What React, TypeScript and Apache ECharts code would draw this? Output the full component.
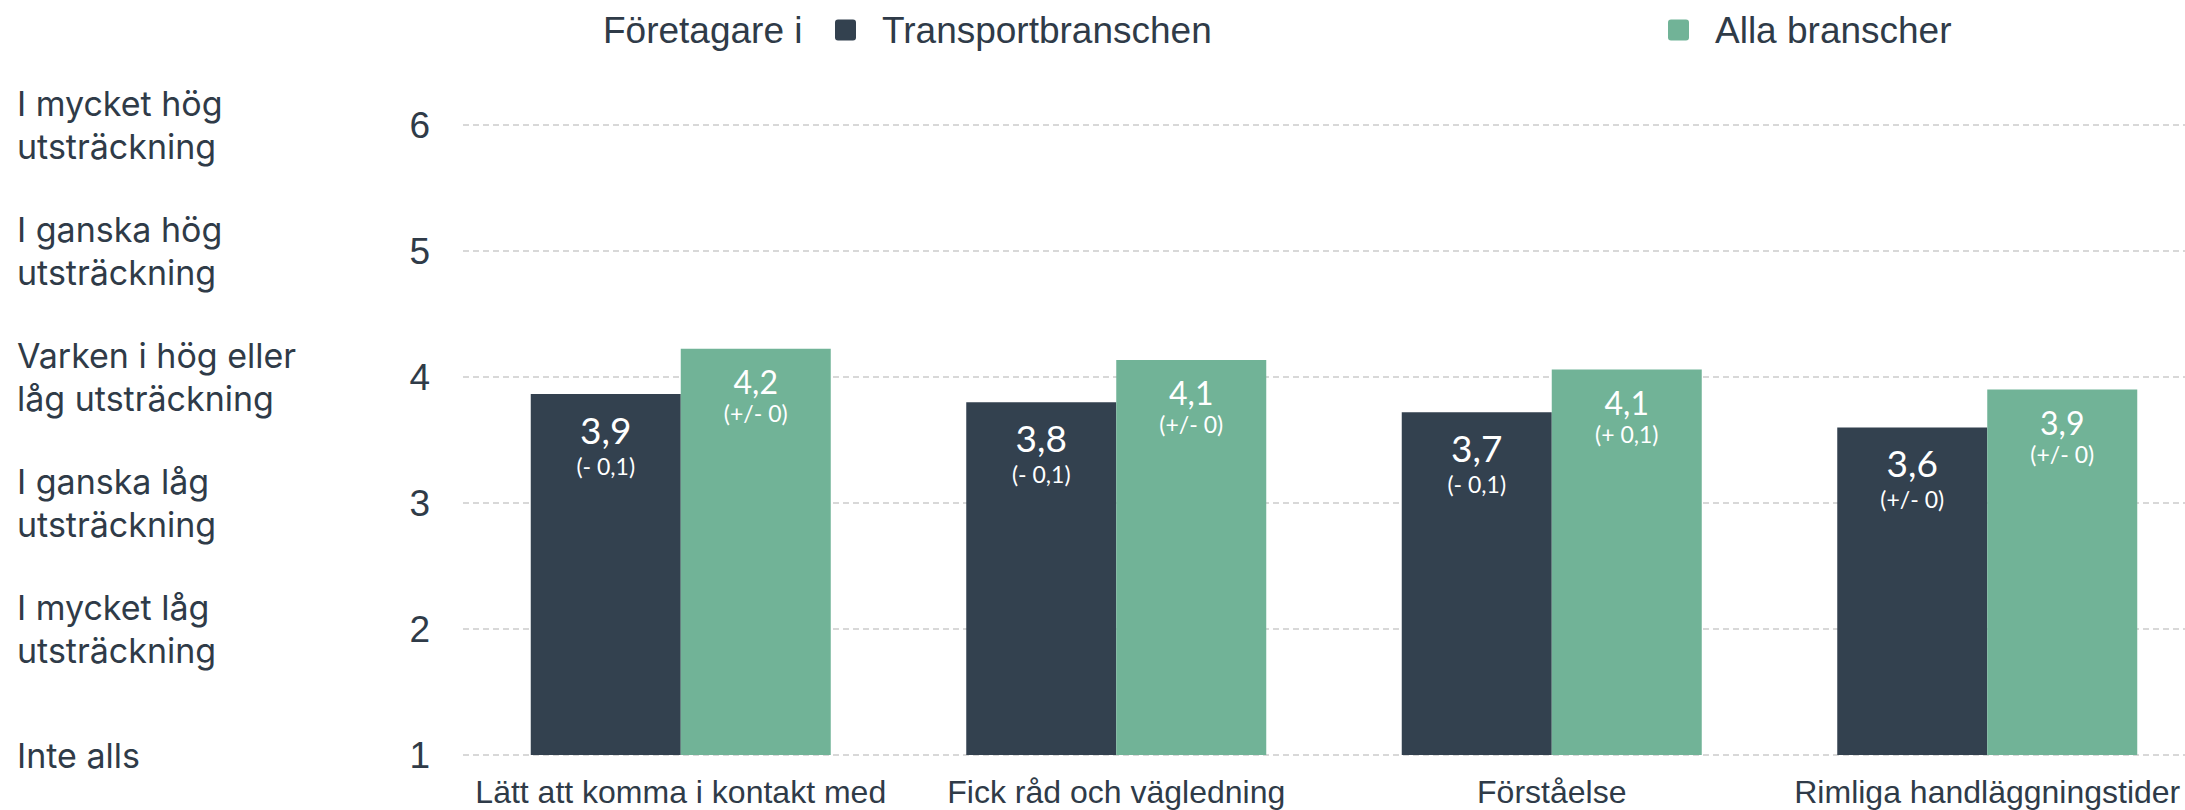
import React, { useEffect, useRef } from "react";
import * as echarts from "echarts";

const categories = [
  "Lätt att komma i kontakt med",
  "Fick råd och vägledning",
  "Förståelse",
  "Rimliga handläggningstider",
];
const seriesNames = ["Transportbranschen", "Alla branscher"];
const transportValues = [3.865, 3.8, 3.72, 3.6];
const allaValues = [4.225, 4.135, 4.06, 3.9];
const transportLabels = ["3,9", "3,8", "3,7", "3,6"];
const transportDeltas = ["(- 0,1)", "(- 0,1)", "(- 0,1)", "(+/- 0)"];
const allaLabels = ["4,2", "4,1", "4,1", "3,9"];
const allaDeltas = ["(+/- 0)", "(+/- 0)", "(+ 0,1)", "(+/- 0)"];
const scaleLabels: Record<number, string> = {
  1: "Inte alls",
  2: "I mycket låg\nutsträckning",
  3: "I ganska låg\nutsträckning",
  4: "Varken i hög eller\nlåg utsträckning",
  5: "I ganska hög\nutsträckning",
  6: "I mycket hög\nutsträckning",
};
const legendPrefix = "Företagare i";

const DARK = "#33414f";
const GREEN = "#71b397";
const TEXT = "#2f3b48";
const ICON =
  "path://M3,0 H18 A3,3 0 0 1 21,3 V18 A3,3 0 0 1 18,21 H3 A3,3 0 0 1 0,18 V3 A3,3 0 0 1 3,0 Z";

export default function App() {
  const ref = useRef<HTMLDivElement>(null);
  useEffect(() => {
    document.body.style.margin = "0";
    document.body.style.overflow = "hidden";
    const chart = echarts.init(ref.current!, null, { renderer: "svg" });
    const gridLeft = 463;
    const legendText = {
      fontSize: 37,
      lineHeight: 40,
      fontFamily: "Liberation Sans",
      color: TEXT,
      padding: [0, 0, 0, 21],
    };
    chart.setOption({
      animation: false,
      backgroundColor: "#ffffff",
      graphic: [
        {
          type: "text",
          left: 603,
          top: 12,
          style: {
            text: legendPrefix,
            fontSize: 37,
            fontFamily: "Liberation Sans",
            fill: TEXT,
          },
        },
      ],
      legend: [
        {
          data: [seriesNames[0]],
          left: 835,
          top: 10,
          padding: 0,
          icon: ICON,
          itemWidth: 21,
          itemHeight: 21,
          textStyle: legendText,
        },
        {
          data: [seriesNames[1]],
          left: 1668,
          top: 10,
          padding: 0,
          icon: ICON,
          itemWidth: 21,
          itemHeight: 21,
          textStyle: legendText,
        },
      ],
      grid: { left: gridLeft, top: 125, width: 1742, height: 630 },
      xAxis: {
        type: "category",
        data: categories,
        axisLine: { show: false },
        axisTick: { show: false },
        axisLabel: {
          interval: 0,
          margin: 21,
          fontSize: 32,
          fontFamily: "Liberation Sans",
          color: TEXT,
        },
      },
      yAxis: [
        {
          type: "value",
          min: 1,
          max: 6,
          interval: 1,
          axisLine: { show: false },
          axisTick: { show: false },
          axisLabel: {
            margin: 33,
            fontSize: 37,
            fontFamily: "Liberation Sans",
            color: TEXT,
          },
          splitLine: {
            show: true,
            lineStyle: { color: "#cccccc", width: 1.5, type: [6, 4] },
          },
        },
        {
          type: "value",
          min: 1,
          max: 6,
          interval: 1,
          position: "left",
          offset: 0,
          axisLine: { show: false },
          axisTick: { show: false },
          splitLine: { show: false },
          axisLabel: {
            margin: gridLeft - 17,
            align: "left",
            fontSize: 34,
            lineHeight: 43,
            fontFamily: "Inter",
            color: TEXT,
            formatter: (v: number) => scaleLabels[v] ?? "",
          },
        },
      ],
      series: [
        {
          name: seriesNames[0],
          type: "bar",
          data: transportValues,
          barWidth: 150,
          barGap: "0%",
          itemStyle: { color: DARK },
          label: {
            show: true,
            position: "insideTop",
            distance: 14,
            formatter: (p: any) =>
              `{v|${transportLabels[p.dataIndex]}}\n{d|${transportDeltas[p.dataIndex]}}`,
            rich: {
              v: { fontSize: 37, lineHeight: 42, color: "#ffffff", fontFamily: "Lato" },
              d: { fontSize: 23, lineHeight: 31, color: "#ffffff", fontFamily: "Lato" },
            },
          },
        },
        {
          name: seriesNames[1],
          type: "bar",
          data: allaValues,
          barWidth: 150,
          barGap: "0%",
          itemStyle: { color: GREEN },
          label: {
            show: true,
            position: "insideTop",
            distance: 16,
            formatter: (p: any) =>
              `{v|${allaLabels[p.dataIndex]}}\n{d|${allaDeltas[p.dataIndex]}}`,
            rich: {
              v: { fontSize: 32, lineHeight: 34, color: "#ffffff", fontFamily: "Lato" },
              d: { fontSize: 23, lineHeight: 29, color: "#ffffff", fontFamily: "Lato" },
            },
          },
        },
      ],
    });
    return () => chart.dispose();
  }, []);
  return (
    <div style={{ width: 2185, height: 810, overflow: "hidden" }}>
      <div ref={ref} style={{ width: 2205, height: 810 }} />
    </div>
  );
}
